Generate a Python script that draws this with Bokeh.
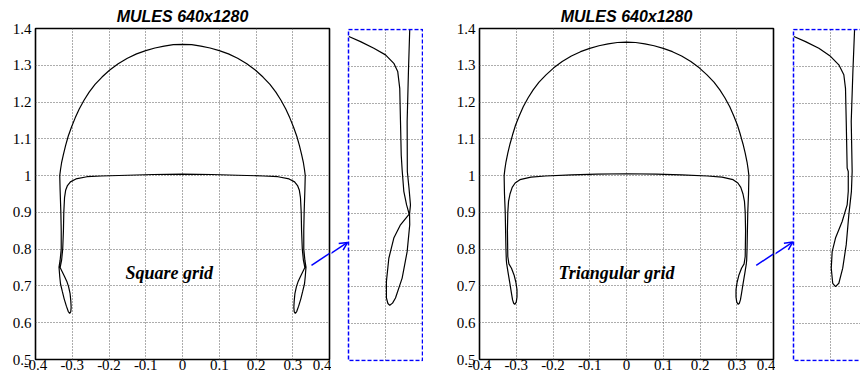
from bokeh.plotting import figure
from bokeh.layouts import row
from bokeh.models import FixedTicker, Grid, Arrow, OpenHead, BoxAnnotation
from bokeh.core.properties import value
from bokeh.embed import file_html
from bokeh.resources import INLINE

title_text = "MULES 640x1280"
x_ticks = [-0.4, -0.3, -0.2, -0.1, 0.0, 0.1, 0.2, 0.3, 0.4]
x_tick_labels = ["-0.4", "-0.3", "-0.2", "-0.1", "0", "0.1", "0.2", "0.3", "0.4"]
y_ticks = [0.5, 0.6, 0.7, 0.8, 0.9, 1.0, 1.1, 1.2, 1.3, 1.4]
y_tick_labels = ["0.5", "0.6", "0.7", "0.8", "0.9", "1", "1.1", "1.2", "1.3", "1.4"]

# zoom window of the insets (x extent of the dashed box) and its grid
inset_box = (0.30, 0.34)
inset_x_tick = [0.32]
inset_y_ticks = [0.6, 0.7, 0.8, 0.9, 1.0, 1.1, 1.2, 1.3]

# ---- Square grid: left half of the interface (top of dome -> outer side -> lobe -> inner side -> flat top)
sq_x = [0.000, -0.025, -0.050, -0.075, -0.100, -0.125, -0.150, -0.175, -0.198, -0.219,
        -0.238, -0.254, -0.268, -0.281, -0.292, -0.302, -0.311, -0.318, -0.324, -0.329,
        -0.332, -0.334,
        -0.333, -0.331, -0.330, -0.330, -0.333, -0.336,
        -0.334, -0.332, -0.327, -0.322, -0.316, -0.311, -0.307,
        -0.304, -0.303, -0.304, -0.306, -0.310, -0.315, -0.322, -0.328, -0.333,
        -0.329, -0.326, -0.324, -0.323, -0.321, -0.318, -0.313, -0.305, -0.290,
        -0.260, -0.220, -0.150, -0.080, 0.000]
sq_y = [1.357, 1.356, 1.352, 1.347, 1.340, 1.331, 1.319, 1.304, 1.287, 1.268,
        1.248, 1.227, 1.205, 1.181, 1.157, 1.132, 1.107, 1.082, 1.058, 1.035,
        1.016, 1.000,
        0.960, 0.900, 0.850, 0.800, 0.770, 0.751,
        0.725, 0.706, 0.685, 0.665, 0.645, 0.631, 0.625,
        0.630, 0.642, 0.660, 0.680, 0.698, 0.713, 0.728, 0.740, 0.750,
        0.770, 0.800, 0.850, 0.900, 0.940, 0.960, 0.973, 0.983, 0.991,
        0.997, 0.999, 1.001, 1.003, 1.004]

# ---- Triangular grid: left half of the interface
tr_x = [0.000, -0.025, -0.050, -0.075, -0.100, -0.125, -0.150, -0.175, -0.198, -0.219,
        -0.238, -0.254, -0.268, -0.281, -0.292, -0.302, -0.310, -0.317, -0.323, -0.328,
        -0.331, -0.333,
        -0.332, -0.330, -0.329, -0.328, -0.327, -0.326,
        -0.322, -0.317, -0.313, -0.310, -0.307, -0.304,
        -0.300, -0.298, -0.298, -0.301, -0.306, -0.313, -0.320,
        -0.323, -0.324, -0.323, -0.321, -0.317, -0.311, -0.303, -0.290,
        -0.260, -0.220, -0.150, -0.080, 0.000]
tr_y = [1.363, 1.362, 1.358, 1.353, 1.346, 1.337, 1.325, 1.310, 1.293, 1.274,
        1.254, 1.233, 1.211, 1.187, 1.162, 1.137, 1.111, 1.086, 1.061, 1.037,
        1.017, 1.000,
        0.950, 0.900, 0.850, 0.800, 0.770, 0.760,
        0.735, 0.705, 0.680, 0.662, 0.653, 0.650,
        0.656, 0.670, 0.690, 0.710, 0.730, 0.748, 0.760,
        0.780, 0.850, 0.900, 0.930, 0.950, 0.968, 0.980, 0.989,
        0.996, 0.999, 1.002, 1.004, 1.005]

# ---- Zoomed insets (near the right neck)
sq_zoom_x = [0.3002, 0.3065, 0.3137, 0.3200, 0.3245, 0.3266, 0.3277, 0.3281, 0.3285, 0.3290,
             0.3299, 0.3314, 0.3328,
             0.3281, 0.3245, 0.3218, 0.3205, 0.3205, 0.3213, 0.3223, 0.3238, 0.3254,
             0.3290, 0.3317, 0.3331, 0.3330,
             0.3335, 0.3327, 0.3318, 0.3317, 0.3324, 0.3331]
sq_zoom_y = [1.381, 1.367, 1.349, 1.331, 1.308, 1.286, 1.240, 1.150, 1.059, 1.018,
             0.960, 0.923, 0.898,
             0.869, 0.833, 0.778, 0.715, 0.670, 0.655, 0.650, 0.656, 0.670,
             0.724, 0.796, 0.869, 0.898,
             0.923, 0.969, 1.014, 1.150, 1.286, 1.400]

tr_zoom_x = [0.3002, 0.3065, 0.3137, 0.3200, 0.3245, 0.3272, 0.3281, 0.3285, 0.3290,
             0.3296, 0.3296, 0.3290, 0.3263, 0.3227, 0.3209, 0.3204, 0.3212, 0.3227,
             0.3245, 0.3266, 0.3285, 0.3299, 0.3313, 0.3317,
             0.3312, 0.3321, 0.3330]
tr_zoom_y = [1.381, 1.367, 1.349, 1.327, 1.304, 1.277, 1.240, 1.150, 1.023,
             1.014, 0.960, 0.923, 0.878, 0.833, 0.796, 0.751, 0.710, 0.701,
             0.710, 0.751, 0.815, 0.896, 0.960, 1.014,
             1.150, 1.286, 1.399]

sq_label = "Square grid"
sq_label_pos = (-0.155, 0.735)
tr_label = "Triangular grid"
tr_label_pos = (-0.185, 0.735)

# arrows: (x_start, y_start, x_end, y_end) in main-plot units and in inset units
sq_arrow_main = (0.351, 0.756, 0.449, 0.821)
sq_arrow_inset = (0.2800, 0.756, 0.2995, 0.821)
tr_arrow_main = (0.353, 0.756, 0.453, 0.822)
tr_arrow_inset = (0.2800, 0.756, 0.2996, 0.822)

GRID_COLOR = "#5a5a5a"
GRID_DASH = "1 2"


def closed(xs, ys):
    fx = list(xs) + [-v for v in reversed(xs)]
    fy = list(ys) + list(reversed(ys))
    return fx, fy


def main_fig(xs, ys, label, label_pos, arrow, border_left):
    p = figure(frame_width=294, frame_height=331, x_range=(-0.4, 0.4), y_range=(0.5, 1.4),
               min_border_left=border_left, min_border_right=2,
               min_border_top=28, min_border_bottom=18,
               output_backend="svg", toolbar_location=None, title=title_text)
    p.title.text_font = "Liberation Sans"
    p.title.text_font_style = "bold italic"
    p.title.text_font_size = "16px"
    p.title.align = "center"
    p.title.text_color = "black"
    p.title.standoff = 8
    p.xaxis.ticker = FixedTicker(ticks=x_ticks)
    p.yaxis.ticker = FixedTicker(ticks=y_ticks)
    p.xaxis.major_label_overrides = dict(zip(x_ticks, x_tick_labels))
    p.yaxis.major_label_overrides = dict(zip(y_ticks, y_tick_labels))
    for ax in (p.xaxis, p.yaxis):
        ax.axis_line_color = None
        ax.major_tick_line_color = None
        ax.minor_tick_line_color = None
        ax.major_tick_out = 0
        ax.major_tick_in = 0
        ax.minor_tick_out = 0
        ax.minor_tick_in = 0
        ax.major_label_text_font = "Liberation Serif"
        ax.major_label_text_font_size = "15px"
        ax.major_label_text_color = "black"
    p.xaxis.major_label_standoff = 0
    p.yaxis.major_label_standoff = 4
    p.grid.grid_line_color = GRID_COLOR
    p.grid.grid_line_dash = GRID_DASH
    p.grid.grid_line_width = 1
    p.outline_line_color = "black"
    p.outline_line_width = 1.6
    p.outline_line_alpha = 1
    fx, fy = closed(xs, ys)
    p.line(fx, fy, line_color="black", line_width=1.2)
    p.text(x=[label_pos[0]], y=[label_pos[1]], text=[label],
           text_font=value("Liberation Serif"), text_font_style="bold italic",
           text_font_size="18px", text_align="left", text_baseline="alphabetic",
           text_color="black")
    # arrow shaft inside the main frame (the rest is drawn in the inset panel)
    p.add_layout(Arrow(end=None, x_start=arrow[0], y_start=arrow[1],
                       x_end=arrow[2], y_end=arrow[3],
                       line_color="blue", line_width=1.5))
    return p


def inset_fig(xs, ys, frame_w, x_range, arrow):
    px_y = 0.9 / 331.0
    p = figure(frame_width=frame_w, frame_height=333, x_range=x_range,
               y_range=(0.5 - px_y, 1.4 + px_y),
               x_axis_type=None, y_axis_type=None,
               min_border_left=0, min_border_right=0,
               min_border_top=27, min_border_bottom=17,
               output_backend="svg", toolbar_location=None)
    p.outline_line_color = None
    p.add_layout(Grid(dimension=1, ticker=FixedTicker(ticks=inset_y_ticks),
                      cross_bounds=inset_box,
                      grid_line_color=GRID_COLOR, grid_line_dash=GRID_DASH))
    p.add_layout(Grid(dimension=0, ticker=FixedTicker(ticks=inset_x_tick),
                      cross_bounds=(0.5, 1.4),
                      grid_line_color=GRID_COLOR, grid_line_dash=GRID_DASH))
    p.add_layout(BoxAnnotation(left=inset_box[0], right=inset_box[1], bottom=0.5, top=1.4,
                               fill_alpha=0, line_color="blue", line_dash="4 2",
                               line_width=1.5, line_alpha=1))
    p.line(xs, ys, line_color="black", line_width=1.2)
    p.add_layout(Arrow(end=OpenHead(line_color="blue", line_width=1.5, size=8),
                       x_start=arrow[0], y_start=arrow[1], x_end=arrow[2], y_end=arrow[3],
                       line_color="blue", line_width=1.5))
    return p


p1 = main_fig(sq_x, sq_y, sq_label, sq_label_pos, sq_arrow_main, 35)
p2 = inset_fig(sq_zoom_x, sq_zoom_y, 92, (0.29081, 0.34054), sq_arrow_inset)
p3 = main_fig(tr_x, tr_y, tr_label, tr_label_pos, tr_arrow_main, 56)
p4 = inset_fig(tr_zoom_x, tr_zoom_y, 85, (0.29027, 0.33621), tr_arrow_inset)

layout = row(p1, p2, p3, p4, spacing=0)
open("out.html", "w").write(file_html(layout, INLINE))
